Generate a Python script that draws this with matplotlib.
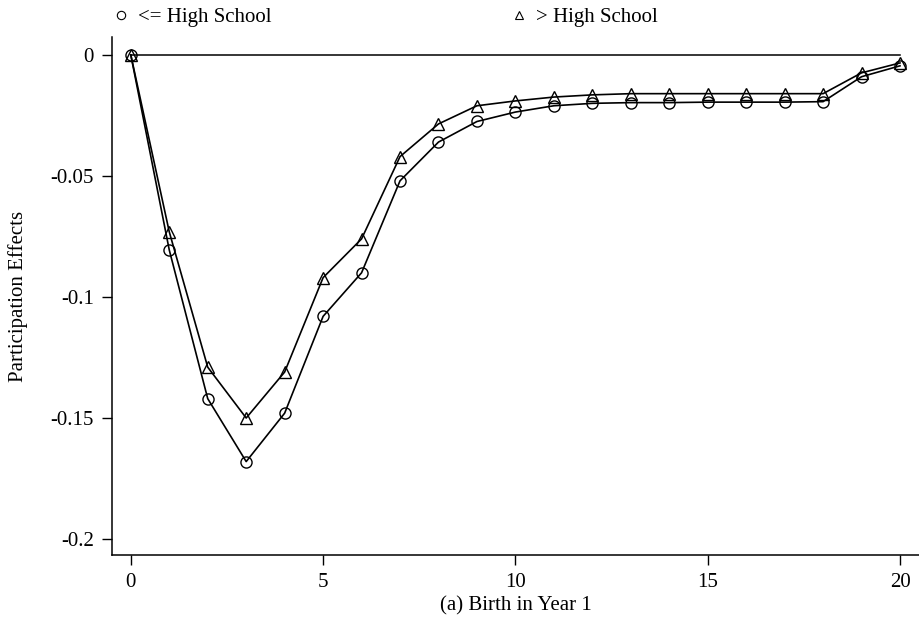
import matplotlib
matplotlib.use("Agg")
import matplotlib.pyplot as plt
from matplotlib.lines import Line2D

plt.rcParams["font.family"] = ["Liberation Serif", "DejaVu Serif"]
plt.rcParams["axes.unicode_minus"] = False

years = list(range(21))
le_high_school = [0, -0.0806, -0.142, -0.168, -0.148, -0.108, -0.090, -0.052,
                  -0.036, -0.0275, -0.0236, -0.021, -0.020, -0.0197, -0.0197,
                  -0.0195, -0.0195, -0.0195, -0.0193, -0.009, -0.0045]
gt_high_school = [0, -0.0731, -0.129, -0.150, -0.131, -0.092, -0.076, -0.042,
                  -0.0285, -0.021, -0.019, -0.0174, -0.0165, -0.016, -0.016,
                  -0.016, -0.016, -0.016, -0.016, -0.0074, -0.0033]
yticks = [0, -0.05, -0.1, -0.15, -0.2]
ytick_labels = ["0", "-0.05", "-0.1", "-0.15", "-0.2"]
xticks = [0, 5, 10, 15, 20]

fig = plt.figure(figsize=(9.2, 6.34), dpi=100)
ax = fig.add_axes([0.1217, 0.1246, 0.8783, 0.817])

# reference line at zero
ax.plot([years[0], years[-1]], [0, 0], color="black", lw=1.1)

style = dict(color="black", lw=1.2, mfc="none", mec="black", mew=1.0)
ax.plot(years, le_high_school, marker="o", ms=8, **style)
ax.plot(years, gt_high_school, marker="^", ms=8, **style)

ax.set_xlim(-0.49, 20.52)
ax.set_ylim(-0.2066, 0.0074)
ax.set_xticks(xticks)
ax.set_yticks(yticks)
ax.set_yticklabels(ytick_labels)
ax.tick_params(direction="out", length=7, width=1, labelsize=15, pad=6)

for s in ["top", "right"]:
    ax.spines[s].set_visible(False)
for s in ["left", "bottom"]:
    ax.spines[s].set_linewidth(1.1)

ax.set_ylabel("Participation Effects", fontsize=15, labelpad=16)
ax.set_xlabel("(a) Birth in Year 1", fontsize=15, labelpad=3)

handles = [
    Line2D([], [], ls="none", marker="o", ms=6, mfc="none", mec="black", mew=0.8),
    Line2D([], [], ls="none", marker="^", ms=6, mfc="none", mec="black", mew=0.8),
]
fig.legend(handles, ["<= High School", "> High School"], ncol=2, frameon=False,
           loc="upper left", bbox_to_anchor=(0.102, 1.018), fontsize=15,
           handlelength=0.8, handletextpad=0.4, columnspacing=11.5)

fig.savefig("out.png", dpi=100)
